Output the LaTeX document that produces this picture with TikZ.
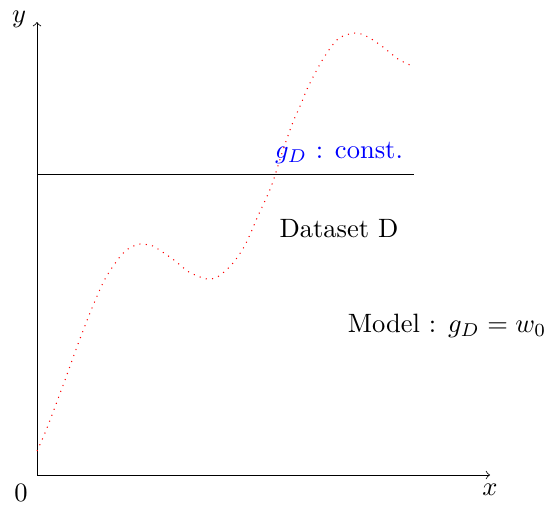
\documentclass[tikz,border=0pt]{standalone}
\begin{document}
\begin{tikzpicture}[x=0.377pt,y=-0.377pt,
  axis/.style={->,line width=0.3pt},
  curve/.style={red,dotted,line width=0.4pt},
  lbl/.style={inner sep=0pt,anchor=center}]
\useasboundingbox (0,0) rectangle (546,504);
\coordinate (O) at (37,475);
\coordinate (X) at (490,475);
\coordinate (Y) at (37,22);
\coordinate (HL) at (37,174);
\coordinate (HR) at (414,174);
\draw[axis] (O) -- (X);
\draw[axis] (O) -- (Y);
\draw[line width=0.3pt] (HL) -- (HR);
\node[lbl] (xl) at (490,490) {$x$};
\node[lbl] (yl) at (19,19) {$y$};
\node[lbl] (zero) at (21,493) {$0$};
\node[lbl,text=blue] (gc) at (339,153) {$g_D$ : const.};
\node[lbl] (ds) at (339,229) {Dataset D};
\node[lbl] (md) at (447,326) {Model : $g_D = w_0$};
\draw[curve] plot[smooth,tension=0.5] coordinates {
 (37,451) (47,428) (65,380) (78,344) (92,308) (105,279) (119,258) (128,249)
 (140,244) (153,246) (158,249) (174,260) (189,272) (207,279) (219,276)
 (233,263) (244,247) (252,230) (257,218) (271,187) (283,150) (293,122)
 (301,104) (308,87) (323,59) (338,39) (355,33) (368,37) (383,47) (398,59) (410,65)};
\end{tikzpicture}
\end{document}
